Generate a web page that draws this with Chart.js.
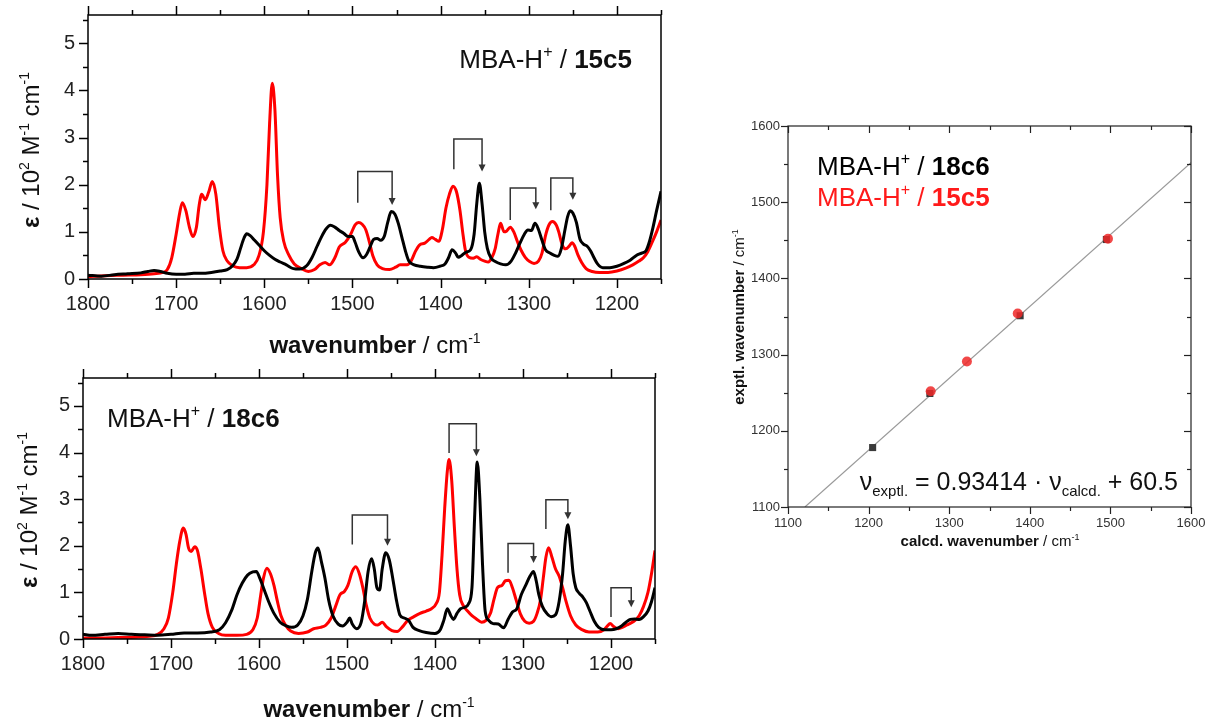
<!DOCTYPE html>
<html>
<head>
<meta charset="utf-8">
<script src="https://cdn.jsdelivr.net/npm/chart.js@4.4.1/dist/chart.umd.min.js"></script>
<style>
  body { margin: 0; background: #fff; width: 1207px; height: 722px; overflow: hidden; position: relative; }
  canvas { position: absolute; }
</style>
</head>
<body>
<canvas id="c15" width="690" height="362" style="left:0;top:0"></canvas>
<canvas id="c18" width="690" height="360" style="left:0;top:362px"></canvas>
<canvas id="cfit" width="507" height="460" style="left:700px;top:100px"></canvas>
<script>
// tick labels
var specXTicks = [1200, 1300, 1400, 1500, 1600, 1700, 1800];
var specYTicks = [0, 1, 2, 3, 4, 5];
var fitTicks = [1100, 1200, 1300, 1400, 1500, 1600];

// ---- MBA-H+ / 15c5 spectra (wavenumber, epsilon) ----
var red15Wn = [1800,1780,1760,1740,1725,1715,1710,1705,1700,1696,1693,1689,1685,1681,1677,1674,1671,1667,1663,1659,1655,1651,1647,1642,1636,1628,1620,1612,1606,1601,1597,1594,1591,1588,1585,1582,1578,1572,1566,1558,1550,1543,1537,1531,1526,1520,1515,1508,1502,1497,1493,1489,1485,1481,1477,1472,1466,1458,1451,1446,1438,1433,1429,1424,1418,1413,1410,1406,1402,1398,1394,1390,1386,1382,1378,1375,1372,1368,1363,1359,1355,1350,1346,1342,1338,1335,1332,1328,1325,1321,1317,1313,1309,1304,1299,1294,1289,1285,1281,1277,1273,1269,1266,1262,1258,1254,1251,1248,1244,1240,1235,1228,1220,1210,1200,1190,1182,1175,1170,1165,1160,1155,1150];
var red15Eps = [0.05,0.07,0.08,0.09,0.11,0.14,0.2,0.45,0.95,1.4,1.62,1.45,1.1,0.9,1.1,1.55,1.8,1.68,1.85,2.07,1.8,1.1,0.6,0.38,0.28,0.24,0.24,0.3,0.5,1.0,2.0,3.3,4.15,3.6,2.2,1.3,0.8,0.5,0.32,0.22,0.16,0.2,0.3,0.35,0.3,0.45,0.68,0.78,0.95,1.15,1.2,1.16,1.05,0.8,0.5,0.3,0.22,0.2,0.25,0.3,0.3,0.4,0.57,0.72,0.76,0.84,0.88,0.84,0.8,1.05,1.5,1.8,1.97,1.85,1.45,1.0,0.62,0.46,0.44,0.47,0.42,0.38,0.36,0.45,0.65,0.95,1.18,1.0,1.02,1.1,1.0,0.8,0.62,0.46,0.37,0.33,0.38,0.55,0.92,1.15,1.22,1.15,1.0,0.72,0.64,0.7,0.77,0.7,0.5,0.35,0.22,0.16,0.14,0.14,0.17,0.23,0.3,0.38,0.45,0.58,0.78,1.0,1.25];
var black15Wn = [1800,1785,1770,1755,1740,1732,1725,1718,1710,1700,1690,1680,1670,1660,1650,1642,1636,1631,1627,1623,1620,1616,1611,1606,1600,1594,1588,1582,1575,1567,1560,1552,1546,1540,1535,1530,1525,1520,1515,1510,1505,1500,1497,1493,1488,1484,1480,1476,1472,1468,1464,1460,1456,1452,1448,1444,1440,1436,1430,1423,1415,1408,1401,1395,1391,1387,1383,1380,1376,1371,1366,1362,1359,1356,1353,1350,1347,1343,1338,1332,1326,1320,1315,1310,1305,1301,1297,1293,1289,1285,1281,1276,1271,1267,1263,1259,1256,1253,1250,1246,1242,1238,1234,1230,1226,1222,1216,1208,1200,1192,1185,1178,1172,1167,1163,1159,1155,1150];
var black15Eps = [0.08,0.06,0.09,0.11,0.13,0.16,0.18,0.16,0.12,0.1,0.1,0.12,0.12,0.14,0.17,0.2,0.28,0.42,0.65,0.87,0.96,0.92,0.82,0.72,0.6,0.5,0.42,0.36,0.3,0.22,0.21,0.28,0.45,0.7,0.9,1.06,1.14,1.1,1.03,0.97,0.9,0.9,0.78,0.58,0.45,0.52,0.68,0.84,0.86,0.82,0.9,1.2,1.43,1.38,1.18,0.89,0.6,0.38,0.3,0.27,0.25,0.24,0.27,0.32,0.45,0.62,0.55,0.46,0.5,0.57,0.62,0.95,1.6,2.03,1.6,1.0,0.65,0.45,0.37,0.32,0.3,0.38,0.55,0.76,0.95,1.04,1.03,1.18,1.05,0.82,0.62,0.55,0.5,0.48,0.65,1.04,1.32,1.45,1.4,1.2,0.85,0.74,0.7,0.6,0.45,0.32,0.24,0.24,0.27,0.33,0.4,0.5,0.55,0.6,0.8,1.1,1.45,1.86];
// brackets: from (calc.) -> to (exptl.)
var br15From = [1494, 1385, 1321, 1275];
var br15To = [1455, 1353, 1292, 1250];
var br15Base = [1.62, 2.33, 1.25, 1.46];
var br15Top = [2.28, 2.97, 1.93, 2.14];
var br15Tip = [1.57, 2.28, 1.48, 1.68];

// ---- MBA-H+ / 18c6 spectra ----
var red18Wn = [1800,1780,1760,1740,1725,1715,1708,1703,1698,1694,1690,1686,1683,1680,1677,1673,1670,1666,1662,1658,1653,1646,1638,1625,1614,1607,1602,1598,1595,1591,1587,1583,1579,1575,1570,1564,1555,1545,1538,1530,1524,1518,1513,1508,1503,1499,1494,1490,1486,1482,1478,1474,1469,1465,1460,1455,1449,1443,1437,1431,1424,1417,1410,1404,1399,1395,1392,1389,1386,1384,1381,1378,1375,1372,1368,1363,1358,1353,1347,1342,1337,1333,1329,1324,1320,1316,1312,1308,1303,1298,1293,1288,1284,1280,1277,1274,1271,1267,1263,1259,1255,1251,1246,1240,1233,1225,1215,1208,1204,1201,1197,1192,1186,1180,1174,1168,1163,1158,1154,1150];
var red18Eps = [0.02,0.02,0.03,0.04,0.06,0.1,0.22,0.45,1.0,1.6,2.1,2.38,2.25,1.95,1.88,1.98,1.9,1.5,1.0,0.55,0.25,0.12,0.08,0.08,0.1,0.2,0.45,0.95,1.3,1.52,1.4,1.15,0.8,0.5,0.3,0.17,0.12,0.15,0.22,0.25,0.3,0.45,0.7,0.95,1.02,1.15,1.45,1.55,1.4,1.1,0.72,0.45,0.32,0.3,0.36,0.26,0.18,0.16,0.26,0.4,0.48,0.55,0.6,0.65,0.75,1.0,1.8,2.8,3.6,3.85,3.4,2.4,1.5,0.95,0.72,0.6,0.5,0.43,0.36,0.4,0.55,0.85,1.1,1.15,1.25,1.26,1.1,0.85,0.54,0.38,0.34,0.38,0.55,0.85,1.3,1.75,1.96,1.75,1.5,1.35,1.1,0.8,0.5,0.3,0.2,0.15,0.15,0.2,0.28,0.33,0.27,0.22,0.26,0.32,0.38,0.5,0.7,1.0,1.4,1.9];
var black18Wn = [1800,1790,1775,1760,1745,1730,1715,1700,1685,1670,1655,1645,1638,1631,1625,1619,1613,1607,1603,1599,1594,1589,1583,1576,1569,1563,1556,1550,1545,1540,1536,1533,1529,1525,1521,1516,1510,1505,1500,1497,1494,1489,1484,1480,1476,1472,1469,1466,1463,1460,1456,1452,1448,1444,1440,1435,1430,1425,1418,1410,1400,1394,1390,1386,1382,1379,1375,1371,1366,1362,1358,1355,1352,1349,1346,1343,1339,1334,1328,1322,1317,1312,1307,1302,1297,1292,1288,1285,1282,1278,1273,1268,1263,1259,1255,1252,1249,1246,1243,1240,1236,1232,1228,1224,1219,1214,1207,1200,1194,1188,1183,1178,1173,1168,1163,1158,1154,1150];
var black18Eps = [0.1,0.08,0.1,0.12,0.1,0.09,0.08,0.1,0.13,0.13,0.15,0.2,0.35,0.62,0.95,1.2,1.37,1.44,1.45,1.3,1.05,0.8,0.55,0.36,0.28,0.25,0.3,0.5,0.85,1.45,1.85,1.95,1.65,1.3,0.85,0.5,0.32,0.28,0.36,0.45,0.32,0.22,0.35,0.8,1.45,1.72,1.5,1.1,1.05,1.5,1.85,1.7,1.3,0.85,0.52,0.45,0.4,0.25,0.18,0.14,0.12,0.2,0.4,0.65,0.5,0.42,0.55,0.65,0.68,0.75,1.1,2.6,3.8,3.0,1.6,0.6,0.4,0.33,0.32,0.24,0.42,0.58,0.65,0.95,1.15,1.35,1.45,1.25,0.95,0.7,0.55,0.48,0.52,0.8,1.4,2.1,2.45,2.0,1.4,1.1,0.98,0.9,0.78,0.6,0.38,0.25,0.2,0.2,0.22,0.28,0.36,0.42,0.43,0.42,0.48,0.6,0.8,1.1];
var br18From = [1494, 1384, 1317, 1274, 1200];
var br18To = [1454, 1353, 1288, 1249, 1177];
var br18Base = [2.03, 3.99, 1.42, 2.36, 0.47];
var br18Top = [2.66, 4.62, 2.05, 2.99, 1.1];
var br18Tip = [2.0, 3.92, 1.63, 2.57, 0.68];

// ---- correlation: calcd. vs exptl. wavenumber ----
var calcd18 = [1205, 1276, 1388, 1495];
var exptl18 = [1178, 1249, 1351, 1451];
var calcd15 = [1277, 1322, 1385, 1497];
var exptl15 = [1252, 1291, 1354, 1452];
var fitX = [1121, 1600];
var fitY = [1100, 1552];

var FONT = "'Liberation Sans', Arial, sans-serif";

function pts(xs, ys) {
  return xs.map(function (x, i) { return { x: x, y: ys[i] }; });
}

function fixTicks(vals) {
  return function (s) { s.ticks = vals.map(function (v) { return { value: v }; }); };
}

// parts: [text, style, colour]; style: 'b' bold, '^' superscript, '_' subscript
function rich(ctx, parts, x, y, size, align, color) {
  function font(s) {
    s = s || '';
    var sz = /[\^_]/.test(s) ? Math.round(size * 0.6) : size;
    return (s.indexOf('b') >= 0 ? 'bold ' : '') + sz + 'px ' + FONT;
  }
  var w = 0;
  parts.forEach(function (p) { ctx.font = font(p[1]); w += ctx.measureText(p[0]).width; });
  var cx = align === 'center' ? x - w / 2 : (align === 'right' ? x - w : x);
  ctx.textBaseline = 'alphabetic';
  ctx.textAlign = 'left';
  parts.forEach(function (p) {
    var s = p[1] || '';
    ctx.font = font(s);
    ctx.fillStyle = p[2] || color || '#000';
    var dy = s.indexOf('^') >= 0 ? -size * 0.42 : (s.indexOf('_') >= 0 ? size * 0.25 : 0);
    ctx.fillText(p[0], cx, y + dy);
    cx += ctx.measureText(p[0]).width;
  });
}

function notesPlugin(notes) {
  return {
    id: 'notes',
    afterDraw: function (chart) {
      var ctx = chart.ctx;
      notes.forEach(function (n) {
        ctx.save();
        ctx.translate(n.x, n.y);
        if (n.rot) ctx.rotate(-Math.PI / 2);
        rich(ctx, n.parts, 0, 0, n.size, n.align, n.color);
        ctx.restore();
      });
    }
  };
}

// box around the plot with major / minor ticks
function framePlugin(f) {
  return {
    id: 'frame',
    afterDraw: function (chart) {
      var ctx = chart.ctx, a = chart.chartArea, sx = chart.scales.x, sy = chart.scales.y;
      ctx.save();
      ctx.strokeStyle = f.color;
      ctx.lineWidth = f.width;
      ctx.strokeRect(a.left, a.top, a.right - a.left, a.bottom - a.top);
      ctx.lineWidth = f.tickWidth;
      function run(scale, major, minor, sides, horizontal) {
        var v0 = Math.ceil(scale.min / minor - 1e-9) * minor;
        for (var v = v0; v <= scale.max + 1e-9; v += minor) {
          var isMajor = Math.abs(v / major - Math.round(v / major)) < 1e-6;
          var len = isMajor ? f.major : f.minor;
          var p = Math.round(scale.getPixelForValue(v)) + 0.5;
          Object.keys(sides).forEach(function (side) {
            var dir = sides[side] === 'out' ? 1 : -1;
            ctx.beginPath();
            if (horizontal) {
              var yb = side === 'bottom' ? a.bottom : a.top;
              var sg = side === 'bottom' ? dir : -dir;
              ctx.moveTo(p, yb); ctx.lineTo(p, yb + sg * len);
            } else {
              var xb = side === 'left' ? a.left : a.right;
              var sg2 = side === 'left' ? -dir : dir;
              ctx.moveTo(xb, p); ctx.lineTo(xb + sg2 * len, p);
            }
            ctx.stroke();
          });
        }
      }
      run(sx, f.xMajor, f.xMinor, f.xSides, true);
      run(sy, f.yMajor, f.yMinor, f.ySides, false);
      ctx.restore();
    }
  };
}

function bracketPlugin(from, to, base, top, tip) {
  return {
    id: 'brackets',
    afterDatasetsDraw: function (chart) {
      var ctx = chart.ctx, sx = chart.scales.x, sy = chart.scales.y;
      ctx.save();
      ctx.strokeStyle = '#333';
      ctx.fillStyle = '#333';
      ctx.lineWidth = 1.5;
      for (var i = 0; i < from.length; i++) {
        var x1 = sx.getPixelForValue(from[i]), x2 = sx.getPixelForValue(to[i]);
        var y1 = sy.getPixelForValue(base[i]), yt = sy.getPixelForValue(top[i]), y2 = sy.getPixelForValue(tip[i]);
        ctx.beginPath();
        ctx.moveTo(x1, y1); ctx.lineTo(x1, yt); ctx.lineTo(x2, yt); ctx.lineTo(x2, y2 - 5);
        ctx.stroke();
        ctx.beginPath();
        ctx.moveTo(x2 - 3.5, y2 - 7); ctx.lineTo(x2 + 3.5, y2 - 7); ctx.lineTo(x2, y2);
        ctx.closePath();
        ctx.fill();
      }
      ctx.restore();
    }
  };
}

var specTitleX = [['wavenumber', 'b'], [' / cm'], ['-1', '^']];
var specTitleY = [['\u03b5', 'b'], [' / 10'], ['2', '^'], [' M'], ['-1', '^'], [' cm'], ['-1', '^']];

function spectrum(id, redPts, blackPts, box, brackets, notes) {
  return new Chart(document.getElementById(id), {
    type: 'line',
    data: {
      datasets: [
        { data: blackPts, borderColor: '#000', borderWidth: 3, pointRadius: 0, cubicInterpolationMode: 'monotone' },
        { data: redPts, borderColor: '#ff0000', borderWidth: 3, pointRadius: 0, cubicInterpolationMode: 'monotone' }
      ]
    },
    options: {
      responsive: false,
      animation: false,
      events: [],
      layout: { padding: { left: 0, top: box.top, right: box.right, bottom: 0 } },
      plugins: { legend: { display: false }, tooltip: { enabled: false } },
      scales: {
        x: {
          type: 'linear', reverse: true, min: 1150, max: 1800,
          grid: { display: false, drawTicks: false }, border: { display: false },
          afterBuildTicks: fixTicks(specXTicks),
          afterFit: function (s) { s.height = box.xh; s.paddingLeft = 0; s.paddingRight = 0; },
          ticks: {
            autoSkip: false, maxRotation: 0, padding: 13,
            color: '#222', font: { family: FONT, size: 20 },
            callback: function (v) { return v; }
          }
        },
        y: {
          min: 0, max: 5.6,
          grid: { display: false, drawTicks: false }, border: { display: false },
          afterBuildTicks: fixTicks(specYTicks),
          afterFit: function (s) { s.width = box.yw; s.paddingTop = 0; s.paddingBottom = 0; },
          ticks: {
            autoSkip: false, padding: 13,
            color: '#222', font: { family: FONT, size: 20 },
            callback: function (v) { return v; }
          }
        }
      }
    },
    plugins: [
      framePlugin({ color: '#000', width: 1.5, tickWidth: 1.5, major: 9, minor: 5,
        xMajor: 100, xMinor: 50, yMajor: 1, yMinor: 0.5,
        xSides: { bottom: 'out', top: 'out' }, ySides: { left: 'out' } }),
      brackets,
      notesPlugin(notes)
    ]
  });
}

spectrum('c15', pts(red15Wn, red15Eps), pts(black15Wn, black15Eps),
  { top: 15, right: 29, xh: 83, yw: 88 },
  bracketPlugin(br15From, br15To, br15Base, br15Top, br15Tip),
  [
    { parts: [['MBA-H'], ['+', '^'], [' / '], ['15c5', 'b']], x: 632, y: 68, size: 26, align: 'right', color: '#111' },
    { parts: specTitleX, x: 375, y: 353, size: 24, align: 'center', color: '#111' },
    { parts: specTitleY, x: 39, y: 150, size: 24, align: 'center', rot: true, color: '#111' }
  ]);

spectrum('c18', pts(red18Wn, red18Eps), pts(black18Wn, black18Eps),
  { top: 16, right: 35, xh: 83, yw: 83 },
  bracketPlugin(br18From, br18To, br18Base, br18Top, br18Tip),
  [
    { parts: [['MBA-H'], ['+', '^'], [' / '], ['18c6', 'b']], x: 107, y: 65, size: 26, align: 'left', color: '#111' },
    { parts: specTitleX, x: 369, y: 355, size: 24, align: 'center', color: '#111' },
    { parts: specTitleY, x: 37, y: 148, size: 24, align: 'center', rot: true, color: '#111' }
  ]);

new Chart(document.getElementById('cfit'), {
  type: 'scatter',
  data: {
    datasets: [
      { data: pts(calcd15, exptl15), pointStyle: 'circle', pointRadius: 5, backgroundColor: 'rgba(238,40,40,0.85)', borderWidth: 0 },
      { data: pts(calcd18, exptl18), pointStyle: 'rect', pointRadius: 5, backgroundColor: '#3a3a3a', borderWidth: 0 },
      { type: 'line', data: pts(fitX, fitY), borderColor: '#9a9a9a', borderWidth: 1.2, pointRadius: 0 }
    ]
  },
  options: {
    responsive: false,
    animation: false,
    events: [],
    layout: { padding: { left: 0, top: 26, right: 16, bottom: 0 } },
    plugins: { legend: { display: false }, tooltip: { enabled: false } },
    scales: {
      x: {
        type: 'linear', min: 1100, max: 1600,
        grid: { display: false, drawTicks: false }, border: { display: false },
        afterBuildTicks: fixTicks(fitTicks),
        afterFit: function (s) { s.height = 53; s.paddingLeft = 0; s.paddingRight = 0; },
        ticks: { autoSkip: false, maxRotation: 0, padding: 9, color: '#333', font: { family: FONT, size: 13 },
          callback: function (v) { return v; } }
      },
      y: {
        min: 1100, max: 1600,
        grid: { display: false, drawTicks: false }, border: { display: false },
        afterBuildTicks: fixTicks(fitTicks),
        afterFit: function (s) { s.width = 88; s.paddingTop = 0; s.paddingBottom = 0; },
        ticks: { autoSkip: false, padding: 8, color: '#333', font: { family: FONT, size: 13 },
          callback: function (v) { return v; } }
      }
    }
  },
  plugins: [
    framePlugin({ color: '#222', width: 1.2, tickWidth: 1.2, major: 7, minor: 4,
      xMajor: 100, xMinor: 50, yMajor: 100, yMinor: 50,
      xSides: { bottom: 'out', top: 'in' }, ySides: { left: 'out', right: 'in' } }),
    notesPlugin([
      { parts: [['MBA-H'], ['+', '^'], [' / '], ['18c6', 'b']], x: 117, y: 75, size: 26, align: 'left', color: '#000' },
      { parts: [['MBA-H'], ['+', '^'], [' / '], ['15c5', 'b']], x: 117, y: 106, size: 26, align: 'left', color: '#ff1a1a' },
      { parts: [['\u03bd'], ['exptl.', '_'], [' = 0.93414 \u00b7 \u03bd'], ['calcd.', '_'], [' + 60.5']], x: 478, y: 390, size: 25, align: 'right', color: '#111' },
      { parts: [['calcd. wavenumber', 'b'], [' / cm'], ['-1', '^']], x: 290, y: 446, size: 15, align: 'center', color: '#111' },
      { parts: [['exptl. wavenumber', 'b'], [' / cm'], ['-1', '^']], x: 44, y: 217, size: 15, align: 'center', rot: true, color: '#111' }
    ])
  ]
});
</script>
</body>
</html>
